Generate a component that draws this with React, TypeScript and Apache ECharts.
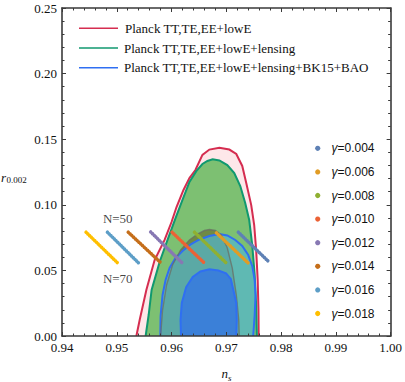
import React, { useEffect, useRef } from "react";
import * as echarts from "echarts";

// ---- data ----
const xTicks = [0.94, 0.95, 0.96, 0.97, 0.98, 0.99, 1.0];
const yTicks = [0, 0.05, 0.1, 0.15, 0.2, 0.25];

const legendNames = [
  "Planck TT,TE,EE+lowE",
  "Planck TT,TE,EE+lowE+lensing",
  "Planck TT,TE,EE+lowE+lensing+BK15+BAO",
];

// contours, [n_s, r]
const planck95: number[][] = [
  [0.95358, 0], [0.95418, 0.0122], [0.9554, 0.0351], [0.95691, 0.0579], [0.95873, 0.0732],
  [0.96, 0.0869], [0.96091, 0.0983], [0.96218, 0.1113], [0.96327, 0.1204], [0.96436, 0.1265],
  [0.96564, 0.138], [0.96691, 0.1421], [0.96873, 0.1435], [0.97055, 0.1421], [0.97182, 0.1387],
  [0.97291, 0.1296], [0.97364, 0.1166], [0.97455, 0.0998], [0.97509, 0.0846], [0.97545, 0.0655],
  [0.97573, 0.0427], [0.97587, 0.0198], [0.97591, 0],
];
const lensing95: number[][] = [
  [0.95527, 0], [0.95582, 0.016], [0.95636, 0.0351], [0.95782, 0.0564], [0.95927, 0.0732],
  [0.96073, 0.0899], [0.962, 0.1037], [0.96327, 0.1174], [0.96455, 0.1258], [0.96564, 0.1311],
  [0.96655, 0.1334], [0.96751, 0.1347], [0.96873, 0.1338], [0.97018, 0.1303], [0.97145, 0.1242],
  [0.97255, 0.1143], [0.97345, 0.1014], [0.97418, 0.0884], [0.97473, 0.0694], [0.97518, 0.0465],
  [0.97545, 0.0236], [0.97558, 0],
];
const planck68: number[][] = [
  [0.958, 0], [0.95836, 0.0198], [0.95909, 0.0389], [0.96018, 0.0541], [0.96164, 0.0655],
  [0.96327, 0.0732], [0.96473, 0.0777], [0.966, 0.0804], [0.96691, 0.0812], [0.968, 0.0804],
  [0.96909, 0.077], [0.97018, 0.0671], [0.97109, 0.0518], [0.97182, 0.0313], [0.97227, 0.0122],
  [0.97236, 0],
];
const bk95: number[][] = [
  [0.95795, 0], [0.958, 0.0152], [0.95836, 0.0313], [0.95891, 0.0427], [0.95964, 0.0518],
  [0.96073, 0.0595], [0.962, 0.0648], [0.96358, 0.0701], [0.96509, 0.0736], [0.96691, 0.0762],
  [0.96873, 0.0777], [0.97018, 0.0766], [0.97164, 0.0732], [0.97291, 0.0686], [0.974, 0.0617],
  [0.97473, 0.0534], [0.97518, 0.0427], [0.97533, 0.0305], [0.97518, 0.016], [0.97491, 0],
];
const bk68: number[][] = [
  [0.96173, 0], [0.96164, 0.0122], [0.96187, 0.0252], [0.96267, 0.0373], [0.96387, 0.045],
  [0.96527, 0.0492], [0.96691, 0.0508], [0.96855, 0.0499], [0.96995, 0.0478], [0.97082, 0.0435],
  [0.97115, 0.0376], [0.97182, 0.0252], [0.97191, 0.0122], [0.97182, 0],
];

// model predictions from N=50 to N=70
const gammas = ["0.004", "0.006", "0.008", "0.010", "0.012", "0.014", "0.016", "0.018"];
const gammaColors = ["#5e81b5", "#e19c24", "#8fb032", "#eb6235", "#8778b3", "#c56e1a", "#5d9ec7", "#ffbf00"];
const nsN50 = [0.9722, 0.9682, 0.9642, 0.9601, 0.9562, 0.9521, 0.9483, 0.9444];
const nsN70 = [0.9778, 0.974, 0.97, 0.966, 0.9619, 0.9581, 0.954, 0.9501];
const rN50 = [0.0791, 0.0786, 0.0791, 0.0791, 0.0793, 0.0791, 0.0791, 0.0791];
const rN70 = [0.0564, 0.0556, 0.0556, 0.0556, 0.0559, 0.0556, 0.0556, 0.0559];

const nLabels = ["N=50", "N=70"];
const nLabelPos: number[][] = [[0.95018, 0.0892], [0.95018, 0.044]];

const SERIF = "'Liberation Serif', 'Times New Roman', serif";
const SANS = "'Liberation Sans', Arial, sans-serif";
const FRAME = "#3a3a3a";

function contour(pts: number[][], fill: string | null, stroke: string | null, lw: number) {
  return {
    type: "custom",
    silent: true,
    clip: true,
    data: [0],
    renderItem: (_p: any, api: any) => {
      const p = pts.map((d) => api.coord(d));
      const children: any[] = [];
      if (fill) children.push({ type: "polygon", shape: { points: p }, style: { fill, stroke: "none" } });
      if (stroke)
        children.push({ type: "polyline", shape: { points: p }, style: { fill: "none", stroke, lineWidth: lw } });
      return { type: "group", children };
    },
  };
}

function axisCommon(showLabel: boolean, interval: number, min: number, max: number, pos: string) {
  return {
    type: "value",
    position: pos,
    min,
    max,
    interval,
    z: 10,
    axisLine: { show: true, onZero: false, lineStyle: { color: FRAME, width: 1.6 } },
    axisTick: { show: true, inside: true, length: 4, lineStyle: { color: FRAME, width: 1 } },
    minorTick: { show: true, splitNumber: 5, length: 2.5, lineStyle: { color: FRAME, width: 1 } },
    splitLine: { show: false },
    minorSplitLine: { show: false },
    axisLabel: {
      show: showLabel,
      fontFamily: SERIF,
      fontSize: 13,
      color: "#111",
      margin: 5,
      formatter: (v: number) => v.toFixed(2),
    },
  };
}

export default function App() {
  const ref = useRef<HTMLDivElement>(null);
  useEffect(() => {
    const chart = echarts.init(ref.current!, null, { renderer: "svg" });
    const lineColors = ["#d52d50", "#10996f", "#2f6ff2"];

    const graphic: any[] = [];
    legendNames.forEach((name, i) => {
      const y = 28.3 + i * 19.7;
      graphic.push({
        type: "line",
        shape: { x1: 79, y1: y, x2: 118, y2: y },
        style: { stroke: lineColors[i], lineWidth: 1.6 },
      });
      graphic.push({
        type: "text",
        x: i === 0 ? 125 : 124,
        y,
        style: { text: name, font: `13px ${SERIF}`, fill: "#111", verticalAlign: "middle" },
      });
    });
    gammas.forEach((g, i) => {
      const y = 148.3 + i * 23.6;
      graphic.push({ type: "circle", shape: { cx: 317.7, cy: y, r: 2.6 }, style: { fill: gammaColors[i] } });
      graphic.push({
        type: "text",
        x: 331.5,
        y,
        style: {
          text: `{g|γ}{t|=${g}}`,
          verticalAlign: "middle",
          rich: {
            g: { fontFamily: SANS, fontStyle: "italic", fontSize: 12, fill: "#111" },
            t: { fontFamily: SANS, fontSize: 12, fill: "#111" },
          },
        },
      });
    });
    // axis names
    graphic.push({
      type: "text", x: 1, y: 177,
      style: { text: "r", font: `italic 13px ${SERIF}`, fill: "#111", verticalAlign: "middle" },
    });
    graphic.push({
      type: "text", x: 6.5, y: 180,
      style: { text: "0.002", font: `9px ${SERIF}`, fill: "#111", verticalAlign: "middle" },
    });
    graphic.push({
      type: "text", x: 221.5, y: 373.5,
      style: { text: "n", font: `italic 13px ${SERIF}`, fill: "#111", verticalAlign: "middle" },
    });
    graphic.push({
      type: "text", x: 228, y: 377.5,
      style: { text: "s", font: `italic 9px ${SERIF}`, fill: "#111", verticalAlign: "middle" },
    });

    const series: any[] = [
      contour(planck95, "#fde7e9", "#d52d50", 2),
      contour(lensing95, "#7dc072", "#10996f", 2),
      contour(planck68, "#6f8a45", null, 0),
      contour(bk95, "rgba(82,182,206,0.7)", "#2f6ff2", 2),
      contour(planck68, null, "rgba(105,110,100,0.75)", 1.4),
      contour(bk68, "#3b80d8", "#2f6ff2", 2),
    ];
    gammas.forEach((g, i) => {
      series.push({
        type: "line",
        name: `γ=${g}`,
        silent: true,
        showSymbol: false,
        data: [
          [nsN50[i], rN50[i]],
          [nsN70[i], rN70[i]],
        ],
        lineStyle: { color: gammaColors[i], width: 3.6, type: [0.01, 2.4], cap: "round" },
      });
    });
    series.push({
      type: "scatter",
      silent: true,
      symbolSize: 0,
      data: nLabelPos.map((p, i) => ({ value: p, name: nLabels[i] })),
      label: {
        show: true,
        position: "inside",
        formatter: (p: any) => p.name,
        fontFamily: SERIF,
        fontSize: 13,
        color: "#111",
      },
    });

    chart.setOption({
      animation: false,
      grid: { left: 62, right: 13, top: 8, bottom: 46 },
      xAxis: [
        axisCommon(true, 0.01, xTicks[0], xTicks[xTicks.length - 1], "bottom"),
        axisCommon(false, 0.01, xTicks[0], xTicks[xTicks.length - 1], "top"),
      ],
      yAxis: [
        axisCommon(true, 0.05, yTicks[0], yTicks[yTicks.length - 1], "left"),
        axisCommon(false, 0.05, yTicks[0], yTicks[yTicks.length - 1], "right"),
      ],
      series,
      graphic,
    });
    return () => chart.dispose();
  }, []);
  return (
    <div
      ref={ref}
      style={{ position: "fixed", left: 0, top: 0, width: 405, height: 382, background: "#fff" }}
    />
  );
}
